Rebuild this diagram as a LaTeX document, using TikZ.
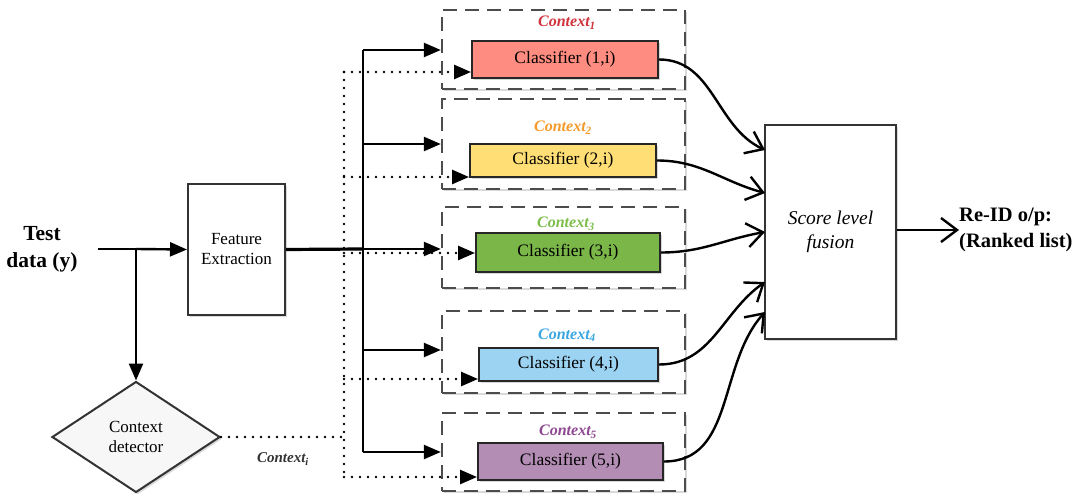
\documentclass[tikz,border=0pt]{standalone}
\usepackage{fontspec}
\setmainfont{Liberation Serif}
\usetikzlibrary{shapes.geometric,arrows.meta,shadows}
\definecolor{cA}{HTML}{D0343F}
\definecolor{cB}{HTML}{F59A2B}
\definecolor{cC}{HTML}{7DBE4B}
\definecolor{cD}{HTML}{3AA6E0}
\definecolor{cE}{HTML}{8E4A91}
\definecolor{fA}{HTML}{FF8C80}
\definecolor{fB}{HTML}{FFDF75}
\definecolor{fC}{HTML}{7AB648}
\definecolor{fD}{HTML}{9DD3F2}
\definecolor{fE}{HTML}{B38DB3}
\begin{document}
\begin{tikzpicture}[x=1pt,y=-1pt,
  shd/.style={drop shadow={shadow xshift=2pt,shadow yshift=-2pt,opacity=0.3}},
  box/.style={draw=black!80,line width=2pt,fill=white,inner sep=0pt,align=center,
    font=\fontsize{17}{20}\selectfont,shd},
  cls/.style={draw=black!85,line width=2pt,inner sep=0pt,align=center,
    font=\fontsize{17.5}{20}\selectfont,shd},
  ctx/.style={draw=black!70,line width=2.4pt,dash pattern=on 14pt off 8pt,fill=white,shd},
  ctxlab/.style={font=\bfseries\itshape\fontsize{16}{18}\selectfont},
  ln/.style={line width=2.4pt,black},
  arr/.style={ln,-{Triangle[length=17pt,width=14pt]}},
  dots/.style={line width=2.6pt,dash pattern=on 0pt off 8pt,line cap=round},
  darr/.style={dots,-{Triangle[length=17pt,width=14pt]}},
  barb/.style={ln,-{Straight Barb[length=16pt,width=24pt]}}
]
\useasboundingbox (0,0) rectangle (1078,497);

% input
\node[font=\bfseries\fontsize{21.5}{27}\selectfont,align=center] (test) at (42,249) {Test\\data (y)};
\node[box,minimum width=97pt,minimum height=131pt] (fe) at (236.5,249.5) {Feature\\Extraction};
\node[box,diamond,fill=gray!6,minimum width=168pt,minimum height=111pt,aspect=1.5] (cd) at (136,437) {Context\\detector};

% context boxes
\node[ctx,minimum width=243pt,minimum height=79pt] (b1) at (563.5,49.5) {};
\node[ctx,minimum width=243pt,minimum height=90pt] (b2) at (563.5,144) {};
\node[ctx,minimum width=243pt,minimum height=81pt] (b3) at (563.5,247.5) {};
\node[ctx,minimum width=243pt,minimum height=82pt] (b4) at (563.5,352) {};
\node[ctx,minimum width=243pt,minimum height=78pt] (b5) at (563.5,452) {};

\node[ctxlab,text=cA] (l1) at (567,23) {Context\textsubscript{1}};
\node[ctxlab,text=cB] (l2) at (563,128) {Context\textsubscript{2}};
\node[ctxlab,text=cC] (l3) at (566,224) {Context\textsubscript{3}};
\node[ctxlab,text=cD] (l4) at (567,335) {Context\textsubscript{4}};
\node[ctxlab,text=cE] (l5) at (568,432) {Context\textsubscript{5}};

% classifiers
\node[cls,fill=fA,minimum width=186pt,minimum height=37pt] (c1) at (565,59.5) {Classifier (1,i)};
\node[cls,fill=fB,minimum width=186pt,minimum height=33pt] (c2) at (563,160.5) {Classifier (2,i)};
\node[cls,fill=fC,minimum width=184pt,minimum height=39pt] (c3) at (568,252.5) {Classifier (3,i)};
\node[cls,fill=fD,minimum width=179pt,minimum height=33pt] (c4) at (568.5,364.5) {Classifier (4,i)};
\node[cls,fill=fE,minimum width=185pt,minimum height=37pt] (c5) at (570.5,461.5) {Classifier (5,i)};

% fusion
\node[box,minimum width=131pt,minimum height=214pt,font=\itshape\fontsize{19.5}{24}\selectfont] (fu) at (830.5,232) {Score level\\fusion};
\node[font=\bfseries\fontsize{20.5}{26}\selectfont,align=left,anchor=west,inner sep=0pt] (out) at (959,230) {Re-ID o/p:\\(Ranked list)};

% input connectors
\coordinate (in) at (98,249);
\coordinate (br) at (136,249);
\draw[ln] (in) -- (br);
\draw[arr] (br) -- (fe.west);
\draw[arr] (br) -- (cd.north);

% trunk
\coordinate (j) at (363,249);
\coordinate (t1) at (363,50);
\coordinate (t2) at (363,144);
\coordinate (t3) at (363,249);
\coordinate (t4) at (363,350);
\coordinate (t5) at (363,452);
\draw[line width=3.2pt] (fe.east) -- (j);
\draw[ln] (t1) -- (t5);
\draw[arr] (t1) -- (t1 -| b1.west);
\draw[arr] (t2) -- (t2 -| b2.west);
\draw[arr] (t3) -- (t3 -| b3.west);
\draw[arr] (t4) -- (t4 -| b4.west);
\draw[arr] (t5) -- (t5 -| b5.west);

% dotted context path
\coordinate (dv) at (344,437);
\coordinate (d1) at (344,72);
\coordinate (d2) at (344,177);
\coordinate (d3) at (344,253);
\coordinate (d4) at (344,379);
\coordinate (d5) at (344,477);
\draw[dots] (cd.east) -- (dv);
\draw[dots] (d1) -- (d5);
\draw[darr] (d1) -- (d1 -| c1.west);
\draw[darr] (d2) -- (d2 -| c2.west);
\draw[darr] (d3) -- (d3 -| c3.west);
\draw[darr] (d4) -- (d4 -| c4.west);
\draw[darr] (d5) -- (d5 -| c5.west);
\node[font=\bfseries\itshape\fontsize{15}{18}\selectfont,text=black!80] (ci) at (283,459) {Context\textsubscript{i}};

% to fusion
\coordinate (f1) at (765,150);
\coordinate (f2) at (765,193);
\coordinate (f3) at (765,232);
\coordinate (f4) at (765,282);
\coordinate (f5) at (765,312);
\draw[barb] (c1.east) to[out=0,in=155] (f1);
\draw[barb] (c2.east) to[out=0,in=165] (f2);
\draw[barb] (c3.east) to[out=0,in=190] (f3);
\draw[barb] (c4.east) to[out=0,in=215] (f4);
\draw[barb] (c5.east) to[out=0,in=228] (f5);
\draw[barb] (fu.east |- out.west) -- (out.west);
\end{tikzpicture}
\end{document}
